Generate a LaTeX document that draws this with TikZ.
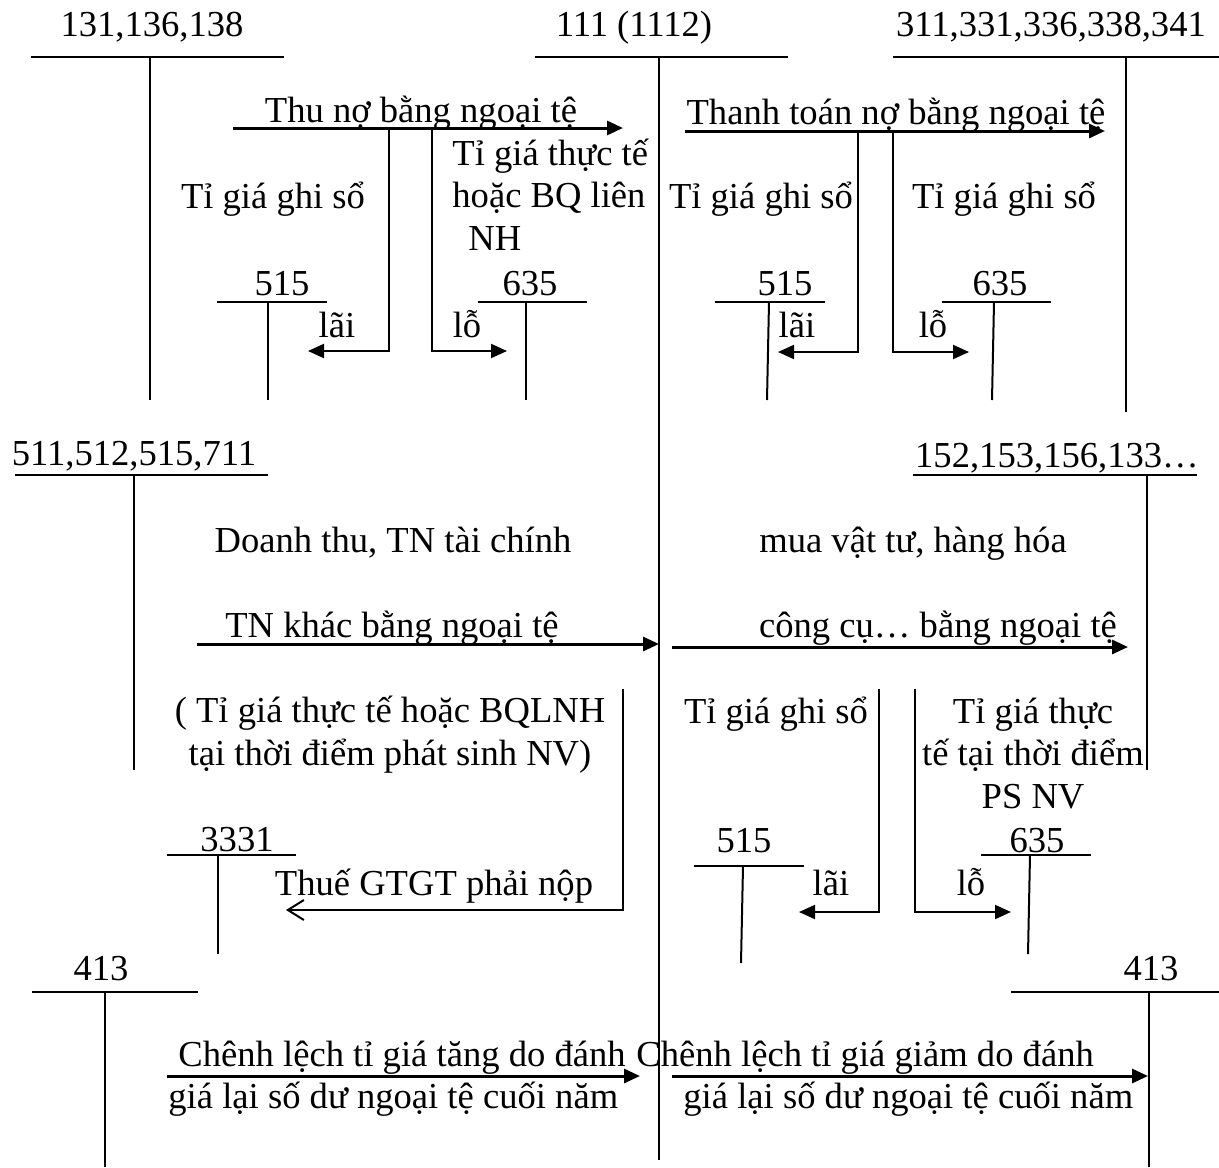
\documentclass[tikz,border=0pt]{standalone}
\usepackage{fontspec}
\setmainfont{Liberation Serif}
\usetikzlibrary{arrows.meta}

\begin{document}
\begin{tikzpicture}[
    x=0.5pt,
    y=-0.5pt,
    every node/.style={inner sep=0pt, font=\fontsize{18.3}{21.25}\selectfont},
    acct/.style={line width=1pt},
    flow/.style={line width=1.5pt, -{Triangle[length=8pt, width=7pt]}},
    branch/.style={line width=1pt, -{Triangle[length=8pt, width=7pt]}},
    tax/.style={line width=1pt, -{Straight Barb[length=8pt, width=10pt]}}
]
\useasboundingbox (0,0) rectangle (1219,1167);

% Main accounts, top row
\node[anchor=base] (tk131) at (152,36) {131,136,138};
\draw[acct] (31,57) -- (284,57);
\draw[acct] (150,57) -- (150,400);

\node[anchor=base] (tk111) at (634,36) {111 (1112)};
\draw[acct] (535,57) -- (788,57);
\draw[acct] (659,57) -- (659,1160);

\node[anchor=base] (tk311) at (1051,36) {311,331,336,338,341};
\draw[acct] (893,57) -- (1219,57);
\draw[acct] (1126,57) -- (1126,412);

% Collecting receivables
\draw[flow] (233,128) -- (623,128);
\node[anchor=base] (thuno) at (421,122) {Thu nợ bằng ngoại tệ};
\node[anchor=base] (tgsoA) at (273,208) {Tỉ giá ghi sổ};
\node[anchor=base west, align=left] (tgthuc) at (452,250) {Tỉ giá thực tế\\hoặc BQ liên\\\hspace*{8pt}NH};
\draw[branch] (389,128) |- (308,351);
\node[anchor=base] (laiA) at (337,337) {lãi};
\draw[branch] (432,128) |- (507,351);
\node[anchor=base] (loA) at (467,337) {lỗ};

\node[anchor=base] (tk515A) at (282,295) {515};
\draw[acct] (217,302) -- (327,302);
\draw[acct] (268,302) -- (268,400);
\node[anchor=base] (tk635A) at (530,295) {635};
\draw[acct] (478,302) -- (587,302);
\draw[acct] (526,302) -- (526,400);

% Paying debts
\draw[flow] (685,131) -- (1105,131);
\node[anchor=base] (thanhtoan) at (896,124) {Thanh toán nợ bằng ngoại tệ};
\node[anchor=base] (tgsoB) at (761,208) {Tỉ giá ghi sổ};
\node[anchor=base] (tgsoC) at (1004,208) {Tỉ giá ghi sổ};
\draw[branch] (858,131) |- (778,352);
\node[anchor=base] (laiB) at (797,337) {lãi};
\draw[branch] (893,131) |- (969,352);
\node[anchor=base] (loB) at (933,337) {lỗ};

\node[anchor=base] (tk515B) at (785,295) {515};
\draw[acct] (715,302) -- (825,302);
\draw[acct] (769,302) -- (767,400);
\node[anchor=base] (tk635B) at (1000,295) {635};
\draw[acct] (942,302) -- (1051,302);
\draw[acct] (994,302) -- (992,400);

% Revenue and purchases
\node[anchor=base] (tk511) at (134,465) {511,512,515,711};
\draw[acct] (15,475) -- (268,475);
\draw[acct] (134,475) -- (134,770);

\node[anchor=base] (tk152) at (1057,467) {152,153,156,133…};
\draw[acct] (913,475) -- (1197,475);
\draw[acct] (1147,475) -- (1147,770);

\node[anchor=base] (doanhthu) at (393,552) {Doanh thu, TN tài chính};
\draw[flow] (197,644) -- (659,644);
\node[anchor=base] (tnkhac) at (392,637) {TN khác bằng ngoại tệ};
\node[anchor=base, align=center] (tgthucC) at (390,765) {( Tỉ giá thực tế hoặc BQLNH\\tại thời điểm phát sinh NV)};
\draw[tax] (623,689) |- (286,910);
\node[anchor=base] (thue) at (434,895) {Thuế GTGT phải nộp};
\node[anchor=base] (tk3331) at (237,851) {3331};
\draw[acct] (167,855) -- (296,855);
\draw[acct] (218,855) -- (218,954);

\node[anchor=base] (muavt) at (913,552) {mua vật tư, hàng hóa};
\draw[flow] (672,647) -- (1128,647);
\node[anchor=base] (congcu) at (938,637) {công cụ… bằng ngoại tệ};
\node[anchor=base] (tgsoD) at (776,723) {Tỉ giá ghi sổ};
\node[anchor=base, align=center] (tgthucD) at (1033,808) {Tỉ giá thực\\tế tại thời điểm\\PS NV};
\draw[branch] (879,689) |- (799,912);
\node[anchor=base] (laiC) at (831,895) {lãi};
\draw[branch] (915,689) |- (1011,912);
\node[anchor=base] (loC) at (971,895) {lỗ};

\node[anchor=base] (tk515C) at (744,852) {515};
\draw[acct] (694,866) -- (804,866);
\draw[acct] (743,866) -- (741,963);
\node[anchor=base] (tk635C) at (1037,852) {635};
\draw[acct] (981,855) -- (1091,855);
\draw[acct] (1030,855) -- (1028,954);

% Year-end revaluation
\node[anchor=base] (tk413A) at (101,980) {413};
\draw[acct] (32,992) -- (198,992);
\draw[acct] (105,992) -- (105,1167);
\node[anchor=base] (tk413B) at (1151,980) {413};
\draw[acct] (1011,992) -- (1219,992);
\draw[acct] (1149,992) -- (1149,1167);

\draw[flow] (167,1076) -- (640,1076);
\node[anchor=base west] (tangA) at (178,1066) {Chênh lệch tỉ giá tăng do đánh};
\node[anchor=base west] (tangB) at (168,1108) {giá lại số dư ngoại tệ cuối năm};
\draw[flow] (672,1076) -- (1148,1076);
\node[anchor=base west] (giamA) at (636,1066) {Chênh lệch tỉ giá giảm do đánh};
\node[anchor=base west] (giamB) at (683,1108) {giá lại số dư ngoại tệ cuối năm};

\end{tikzpicture}
\end{document}
